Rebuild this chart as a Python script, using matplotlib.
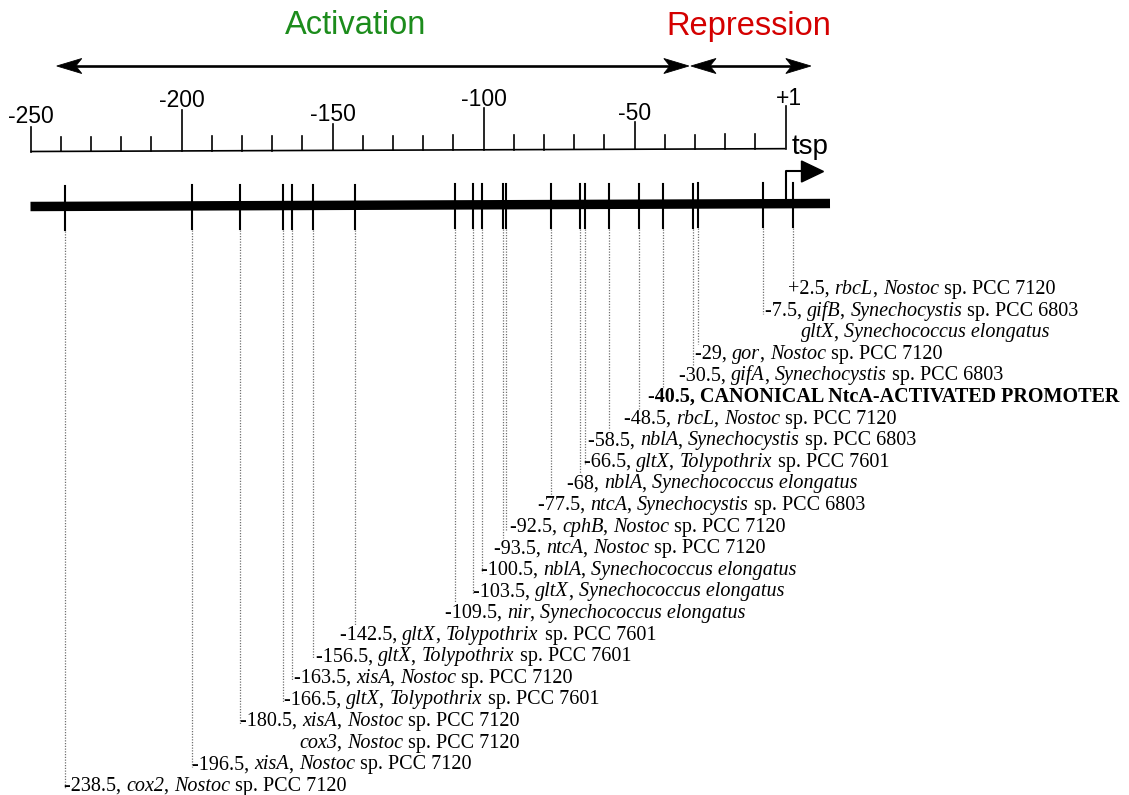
import matplotlib
matplotlib.use("Agg")
import matplotlib.pyplot as plt
from matplotlib.patches import Polygon
from matplotlib.font_manager import FontProperties, findfont, get_font

# ---------------- data ----------------
site_pos = [2.5, -7.5, None, -29, -30.5, -40.5, -48.5, -58.5, -66.5, -68,
            -77.5, -92.5, -93.5, -100.5, -103.5, -109.5, -142.5, -156.5,
            -163.5, -166.5, -180.5, None, -196.5, -238.5]
site_gene = ["rbcL", "gifB", "gltX", "gor", "gifA", None, "rbcL", "nblA",
             "gltX", "nblA", "ntcA", "cphB", "ntcA", "nblA", "gltX", "nir",
             "gltX", "gltX", "xisA", "gltX", "xisA", "cox3", "xisA", "cox2"]
site_org = ["Nostoc sp. PCC 7120", "Synechocystis sp. PCC 6803",
            "Synechococcus elongatus", "Nostoc sp. PCC 7120",
            "Synechocystis sp. PCC 6803", None, "Nostoc sp. PCC 7120",
            "Synechocystis sp. PCC 6803", "Tolypothrix sp. PCC 7601",
            "Synechococcus elongatus", "Synechocystis sp. PCC 6803",
            "Nostoc sp. PCC 7120", "Nostoc sp. PCC 7120",
            "Synechococcus elongatus", "Synechococcus elongatus",
            "Synechococcus elongatus", "Tolypothrix sp. PCC 7601",
            "Tolypothrix sp. PCC 7601", "Nostoc sp. PCC 7120",
            "Tolypothrix sp. PCC 7601", "Nostoc sp. PCC 7120",
            "Nostoc sp. PCC 7120", "Nostoc sp. PCC 7120", "Nostoc sp. PCC 7120"]
canonical_label = "CANONICAL NtcA-ACTIVATED PROMOTER"
scale_major = [-250, -200, -150, -100, -50, 0]
scale_major_labels = ["-250", "-200", "-150", "-100", "-50", "+1"]
scale_minor = [-240, -230, -220, -210, -190, -180, -170, -160, -140, -130,
               -120, -110, -90, -80, -70, -60, -40, -30, -20, -10]
region_names = ["Activation", "Repression"]
region_start = [-241.3, -31.3]
region_end = [-32.0, 8.4]
region_colors = ["#1c8c1c", "#d40000"]
tsp_label = "tsp"

# ---------------- layout (pixels) ----------------
W, H = 1129, 795
PXB = 3.02                      # pixels per base pair
X_LEFT = -250 - 30.5 / PXB
label_dx_px = [-5, 2, 38, -3, -14, -15, -15, -21, -1, -13, -13.5, 4, -9,
               -1, 0, -10, -15, 3, 2, 1, 0, 59, 0, -1]
region_text_dx_px = [-17, -2]
ROW0, ROWDY = 288, 21.6
LABEL_FS = 14.5
TILT = -3.0 / 800.0             # slight scan tilt (px of y per px of x)

fig = plt.figure(figsize=(W / 100, H / 100), dpi=100)
ax = fig.add_axes([0, 0, 1, 1])
ax.set_xlim(X_LEFT, X_LEFT + W / PXB)
ax.set_ylim(H, 0)
ax.axis("off")


def bp(px):
    return px / PXB


def ty(v, y):
    """y with the slight tilt of the scanned drawing applied."""
    return y + TILT * (v + 250) * PXB


# ---- region arrows ----
def head(tip, y, d):
    L, notch, hw = bp(25), bp(19), 7.5
    pts = [(tip, y), (tip - d * L, y - hw), (tip - d * notch, y),
           (tip - d * L, y + hw)]
    ax.add_patch(Polygon(pts, closed=True, fc="black", ec="black", lw=0.6))


AY = 66
for name, s, e, c, tdx in zip(region_names, region_start, region_end,
                              region_colors, region_text_dx_px):
    ax.plot([s + bp(15), e - bp(15)], [AY, AY], color="black", lw=1.9,
            solid_capstyle="butt")
    head(s, AY, -1)
    head(e, AY, 1)
    ax.text((s + e) / 2 + bp(tdx), 26, name, color=c, fontsize=23.5,
            family="Liberation Sans", ha="center", va="center")

# ---- ruler ----
BASE = 151.5
ax.plot([scale_major[0], scale_major[-1]],
        [ty(scale_major[0], BASE), ty(scale_major[-1], BASE)],
        color="black", lw=1.2, solid_capstyle="butt")
for v in scale_minor:
    ax.plot([v, v], [ty(v, BASE), ty(v, 137)], color="black", lw=1.2)
major_tops = [127, 111, 125, 110, 124, 109]
for v, lab, top in zip(scale_major, scale_major_labels, major_tops):
    ax.plot([v, v], [ty(v, BASE), ty(v, top)], color="black", lw=1.2)
    dx = bp(3) if lab.startswith("+") else 0
    ax.text(v + dx, top - 4, lab, fontsize=16.5,
            family="Liberation Sans", ha="center", va="baseline")

# ---- promoter line ----
LINE_Y = 206.5
xr = bp(830 - 785.5)
ax.plot([-250, xr], [ty(-250, LINE_Y), ty(xr, LINE_Y)], color="black",
        lw=6.8, solid_capstyle="butt", zorder=3)
for v in site_pos:
    if v is not None:
        ax.plot([v, v], [ty(v, 186), ty(v, 230)], color="black", lw=1.5,
                zorder=4)

# tsp arrow
ax.plot([0, 0, bp(17)], [ty(0, LINE_Y) - 3, 171, 171], color="black",
        lw=1.5, zorder=4)
ax.add_patch(Polygon([(bp(16), 161), (bp(16), 182), (bp(38), 171.5)],
                     closed=True, fc="black", ec="black", zorder=4))
ax.text(bp(6), 154, tsp_label, fontsize=20, family="Liberation Sans",
        ha="left", va="baseline")

# ---- labels ----
fp_r = FontProperties(family="Liberation Serif", size=LABEL_FS)
fp_i = FontProperties(family="Liberation Serif", style="italic", size=LABEL_FS)
fp_b = FontProperties(family="Liberation Serif", weight="bold", size=LABEL_FS)


def advance(s, fp):
    f = get_font(findfont(fp))
    f.set_size(fp.get_size_in_points(), 100)
    return sum(f.load_char(ord(ch)).linearHoriAdvance / 65536 for ch in s)


def split_org(org):
    if " sp." in org:
        g, rest = org.split(" sp.", 1)
        return [(g, fp_i), (" sp." + rest, fp_r)]
    return [(org, fp_i)]


prev = None
for i, (v, gene, org) in enumerate(zip(site_pos, site_gene, site_org)):
    row_y = ROW0 + i * ROWDY
    anchor = v if v is not None else prev
    x_px = (anchor - X_LEFT) * PXB + label_dx_px[i]
    if v is None:
        segs = [(gene, fp_i), (", ", fp_r)] + split_org(org)
    elif gene is None:
        segs = [(f"{v:g}, " + canonical_label, fp_b)]
    else:
        segs = [(f"{v:+g}, " if v > 0 else f"{v:g}, ", fp_r),
                (gene, fp_i), (", ", fp_r)] + split_org(org)
    xx = x_px
    for s, fp in segs:
        ax.text(bp(xx) + X_LEFT, row_y + 6, s, fontproperties=fp,
                ha="left", va="baseline")
        xx += advance(s, fp)
    if v is not None:
        end = row_y + 4 if label_dx_px[i] > -3 else row_y - 9
        ax.plot([v, v], [ty(v, 231), end], color="#707070", lw=0.9,
                dashes=(1, 1.2), zorder=2)
        prev = v

fig.savefig("out.png", dpi=100)
